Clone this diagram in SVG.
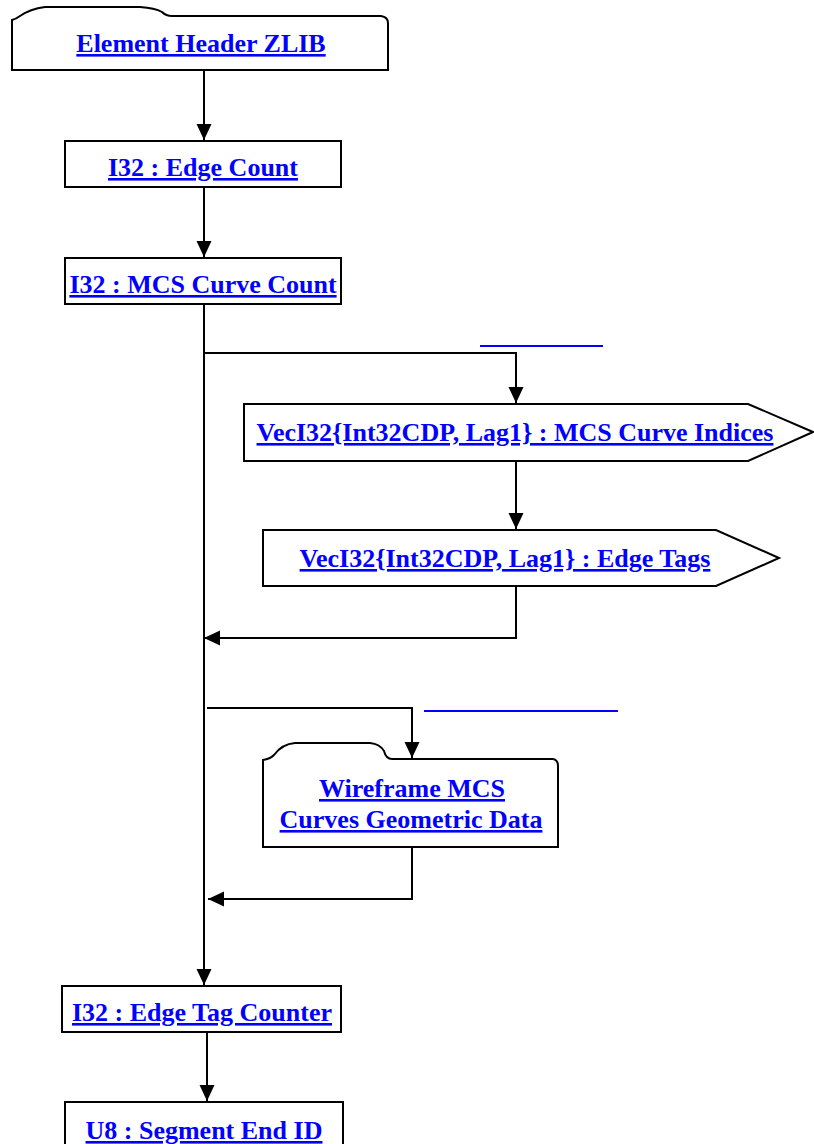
<svg xmlns="http://www.w3.org/2000/svg" width="814" height="1144" viewBox="0 0 814 1144">
<style>
.shape{fill:#fff;stroke:#000;stroke-width:2}
.lbl{font-family:"Liberation Serif","Times New Roman",serif;font-weight:bold;font-size:26px;fill:#0000ff;text-decoration:underline;text-anchor:middle}
.conn{fill:none;stroke:#000;stroke-width:2}
.blank{stroke:#0000ff;stroke-width:2}
</style>
<defs>
<marker id="arr" markerUnits="userSpaceOnUse" markerWidth="18" markerHeight="18" viewBox="0 0 18 18" refX="16" refY="9" orient="auto">
<path d="M0,1.5 L16,9 L0,16.5 Z" fill="#000"/>
</marker>
</defs>
<rect width="814" height="1144" fill="#fff"/>
<g id="connectors">
<path class="conn" d="M204,70 V140" marker-end="url(#arr)"/>
<path class="conn" d="M204,187 V257" marker-end="url(#arr)"/>
<path class="conn" d="M204,304 V985" marker-end="url(#arr)"/>
<path class="conn" d="M204,353 H516 V403" marker-end="url(#arr)"/>
<path class="conn" d="M516,461 V529" marker-end="url(#arr)"/>
<path class="conn" d="M516,586 V638 H204" marker-end="url(#arr)"/>
<path class="conn" d="M207,708 H412 V758" marker-end="url(#arr)"/>
<path class="conn" d="M412,847 V899 H208" marker-end="url(#arr)"/>
<path class="conn" d="M207,1032 V1101" marker-end="url(#arr)"/>
<line class="blank" x1="480" y1="346" x2="603" y2="346"/>
<line class="blank" x1="424" y1="711" x2="618" y2="711"/>
</g>
<g id="element-header-zlib">
<path class="shape" d="M12,70 V20 Q16,19 20,16 Q30,9 45,7 H140 Q155,8 162,12 Q166,16 172,16 H381 Q388,17 388,23 V70 Z"/>
<text class="lbl" x="201" y="52">Element Header ZLIB</text>
</g>
<g id="edge-count">
<rect class="shape" x="65" y="141" width="276" height="46"/>
<text class="lbl" x="203" y="176">I32 : Edge Count</text>
</g>
<g id="mcs-curve-count">
<rect class="shape" x="65" y="258" width="276" height="46"/>
<text class="lbl" x="203" y="293">I32 : MCS Curve Count</text>
</g>
<g id="mcs-curve-indices">
<path class="shape" d="M244,404 H748 L813,432 L748,461 H244 Z"/>
<text class="lbl" x="515" y="441">VecI32{Int32CDP, Lag1} : MCS Curve Indices</text>
</g>
<g id="edge-tags">
<path class="shape" d="M263,530 H716 L779,558 L716,586 H263 Z"/>
<text class="lbl" x="505" y="567">VecI32{Int32CDP, Lag1} : Edge Tags</text>
</g>
<g id="wireframe-mcs">
<path class="shape" d="M263,847 V760 Q270,759 274,755 Q282,744 295,743 H370 Q380,744 384,751 Q386,759 392,759 H553 Q558,760 558,766 V847 Z"/>
<text class="lbl" x="412" y="797">Wireframe MCS</text>
<text class="lbl" x="411" y="828">Curves Geometric Data</text>
</g>
<g id="edge-tag-counter">
<rect class="shape" x="62" y="986" width="279" height="46"/>
<text class="lbl" x="202" y="1021">I32 : Edge Tag Counter</text>
</g>
<g id="segment-end-id">
<rect class="shape" x="65" y="1102" width="278" height="60"/>
<text class="lbl" x="204" y="1139">U8 : Segment End ID</text>
</g>
</svg>
